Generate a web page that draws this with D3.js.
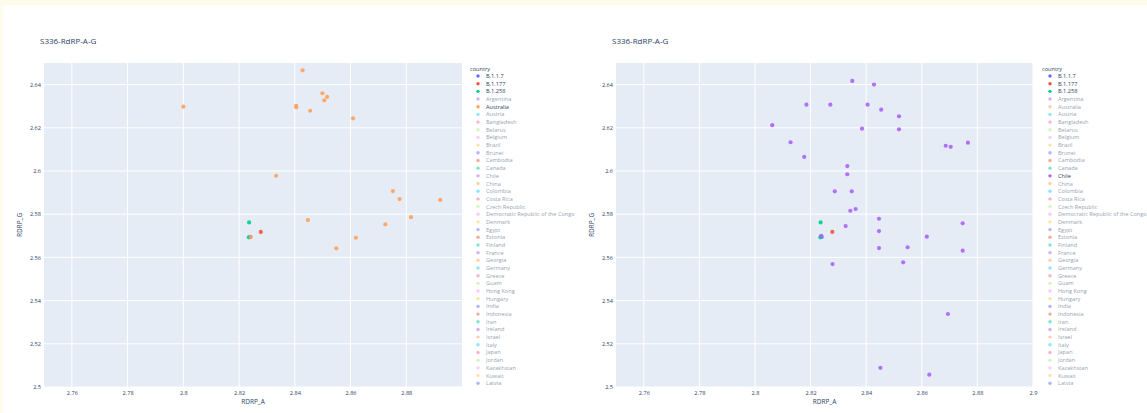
<!DOCTYPE html>
<html>
<head>
<meta charset="utf-8">
<script src="https://cdn.jsdelivr.net/npm/d3@7"></script>
<style>
  html, body { margin: 0; padding: 0; background: #fffbea; }
  svg { display: block; }
  text { font-family: "Open Sans", Verdana, Arial, sans-serif; }
</style>
</head>
<body>
<svg id="chart" width="1147" height="413"></svg>
<script>
// ---------- DATA ----------
const chartTitle = "S336-RdRP-A-G";
const xTitle = "RDRP_A";
const yTitle = "RDRP_G";
const legendTitle = "country";
const legendNames = ["B.1.1.7","B.1.177","B.1.258","Argentina","Australia","Austria","Bangladesh","Belarus","Belgium","Brazil","Brunei","Cambodia","Canada","Chile","China","Colombia","Costa Rica","Czech Republic","Democratic Republic of the Congo","Denmark","Egypt","Estonia","Finland","France","Georgia","Germany","Greece","Guam","Hong Kong","Hungary","India","Indonesia","Iran","Ireland","Israel","Italy","Japan","Jordan","Kazakhstan","Kuwait","Latvia"];
const palette = ["#636efa","#EF553B","#00cc96","#ab63fa","#FFA15A","#19d3f3","#FF6692","#B6E880","#FF97FF","#FECB52"];

const xTicksLeft = [2.76, 2.78, 2.8, 2.82, 2.84, 2.86, 2.88];
const xTickLabelsLeft = ["2.76","2.78","2.8","2.82","2.84","2.86","2.88"];
const xTicksRight = [2.76, 2.78, 2.8, 2.82, 2.84, 2.86, 2.88, 2.9];
const xTickLabelsRight = ["2.76","2.78","2.8","2.82","2.84","2.86","2.88","2.9"];
const yTicks = [2.5, 2.52, 2.54, 2.56, 2.58, 2.6, 2.62, 2.64];
const yTickLabels = ["2.5","2.52","2.54","2.56","2.58","2.6","2.62","2.64"];
const xDomain = [2.75, 2.9];
const yDomain = [2.5, 2.65];

const b117X = [2.8240];
const b117Y = [2.5695];
const b1177X = [2.8278];
const b1177Y = [2.5718];
const b1258X = [2.8236, 2.8235];
const b1258Y = [2.5762, 2.5693];

const australiaX = [2.8428, 2.8000, 2.8405, 2.8405, 2.8499, 2.8516, 2.8506, 2.8455, 2.8609, 2.8333, 2.8752, 2.8776, 2.8922, 2.8817, 2.8447, 2.8725, 2.8619, 2.8549, 2.8242];
const australiaY = [2.6466, 2.6298, 2.6302, 2.6295, 2.6360, 2.6343, 2.6327, 2.6279, 2.6244, 2.5978, 2.5907, 2.5870, 2.5866, 2.5786, 2.5773, 2.5753, 2.5691, 2.5642, 2.5694];

const chileX = [2.8350, 2.8428, 2.8185, 2.8271, 2.8405, 2.8454, 2.8518, 2.8062, 2.8385, 2.8518, 2.8128, 2.8686, 2.8704, 2.8766, 2.8177, 2.8332, 2.8332, 2.8287, 2.8348, 2.8343, 2.8362, 2.8446, 2.8326, 2.8747, 2.8446, 2.8238, 2.8618, 2.8446, 2.8549, 2.8747, 2.8279, 2.8533, 2.8694, 2.8451, 2.8627];
const chileY = [2.6417, 2.6400, 2.6307, 2.6307, 2.6307, 2.6284, 2.6253, 2.6212, 2.6196, 2.6193, 2.6133, 2.6117, 2.6112, 2.6131, 2.6065, 2.6023, 2.5985, 2.5906, 2.5906, 2.5816, 2.5824, 2.5779, 2.5745, 2.5758, 2.5722, 2.5700, 2.5696, 2.5643, 2.5647, 2.5631, 2.5569, 2.5577, 2.5338, 2.5089, 2.5057];

const lineageSeries = [
  {name: "B.1.1.7", xs: b117X, ys: b117Y},
  {name: "B.1.177", xs: b1177X, ys: b1177Y},
  {name: "B.1.258", xs: b1258X, ys: b1258Y}
];
const panels = [
  {series: [...lineageSeries, {name: "Australia", xs: australiaX, ys: australiaY}],
   xTicks: xTicksLeft, xTickLabels: xTickLabelsLeft},
  {series: [...lineageSeries, {name: "Chile", xs: chileX, ys: chileY}],
   xTicks: xTicksRight, xTickLabels: xTickLabelsRight}
];

// ---------- LAYOUT ----------
const layouts = [
  {plotL: 44, plotR: 462, titleX: 40, legX: 470},
  {plotL: 616, plotR: 1033, titleX: 612, legX: 1042}
];
const plotT = 63, plotB = 387;
const colorOf = name => palette[legendNames.indexOf(name) % palette.length];
const textColor = "#2a3f5f";

const svg = d3.select("#chart");
svg.append("rect").attr("x", 3).attr("y", 5).attr("width", 1144).attr("height", 408).attr("fill", "#ffffff");

panels.forEach((p, i) => {
  const L = layouts[i];
  const g = svg.append("g");
  const x = d3.scaleLinear().domain(xDomain).range([L.plotL, L.plotR]);
  const y = d3.scaleLinear().domain(yDomain).range([plotB, plotT]);

  g.append("rect").attr("x", L.plotL).attr("y", plotT)
    .attr("width", L.plotR - L.plotL).attr("height", plotB - plotT).attr("fill", "#e5ecf6");

  // grid
  g.selectAll(".vg").data(p.xTicks).join("line")
    .attr("x1", d => x(d)).attr("x2", d => x(d)).attr("y1", plotT).attr("y2", plotB)
    .attr("stroke", "#ffffff").attr("stroke-width", 1);
  g.selectAll(".hg").data(yTicks).join("line")
    .attr("x1", L.plotL).attr("x2", L.plotR).attr("y1", d => y(d)).attr("y2", d => y(d))
    .attr("stroke", "#ffffff").attr("stroke-width", 1);

  // axes via d3
  const xAxis = d3.axisBottom(x).tickValues(p.xTicks).tickFormat((d, k) => p.xTickLabels[k]).tickSize(0).tickPadding(4);
  const gx = g.append("g").attr("transform", `translate(0,${plotB})`).call(xAxis);
  const yAxis = d3.axisLeft(y).tickValues(yTicks).tickFormat((d, k) => yTickLabels[k]).tickSize(0).tickPadding(3);
  const gy = g.append("g").attr("transform", `translate(${L.plotL},0)`).call(yAxis);
  [gx, gy].forEach(a => {
    a.select(".domain").remove();
    a.selectAll("text").attr("fill", textColor).attr("font-size", 5.6)
      .style("font-family", '"Open Sans", Verdana, Arial, sans-serif');
  });

  // titles
  g.append("text").attr("x", L.titleX).attr("y", 44).attr("fill", textColor)
    .attr("font-size", 8).text(chartTitle);
  g.append("text").attr("x", (L.plotL + L.plotR) / 2).attr("y", 404)
    .attr("text-anchor", "middle").attr("fill", textColor).attr("font-size", 6.5).text(xTitle);
  g.append("text").attr("transform", `translate(${L.plotL - 22},225) rotate(-90)`)
    .attr("text-anchor", "middle").attr("fill", textColor).attr("font-size", 6.5).text(yTitle);

  // points
  p.series.forEach(s => {
    const pts = s.xs.map((v, k) => [v, s.ys[k]]);
    g.append("g").selectAll("circle").data(pts).join("circle")
      .attr("cx", d => x(d[0])).attr("cy", d => y(d[1])).attr("r", 2.1)
      .attr("fill", colorOf(s.name)).attr("fill-opacity", 0.9);
  });

  // legend
  const visible = p.series.map(s => s.name);
  const lg = g.append("g");
  lg.append("text").attr("x", L.legX).attr("y", 71).attr("fill", textColor)
    .attr("font-size", 5.6).text(legendTitle);
  const items = lg.selectAll(".it").data(legendNames).join("g")
    .attr("transform", (d, k) => `translate(0,${76 + k * 7.68})`)
    .attr("opacity", d => visible.includes(d) ? 1 : 0.5);
  items.append("circle").attr("cx", L.legX + 8).attr("cy", 0).attr("r", 1.7)
    .attr("fill", d => colorOf(d));
  items.append("text").attr("x", L.legX + 16).attr("y", 2).attr("fill", textColor)
    .attr("font-size", 5.6).text(d => d);
});
</script>
</body>
</html>
